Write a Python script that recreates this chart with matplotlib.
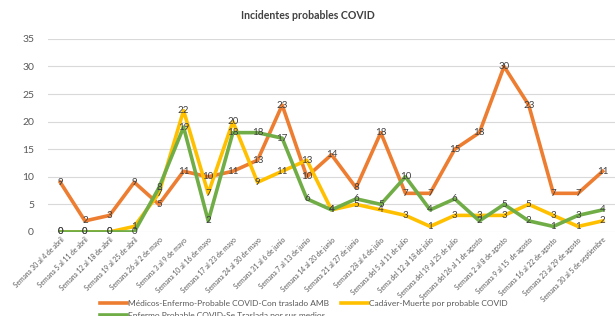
import matplotlib.pyplot as plt

semanas = ['Semana 30 al 4 de abril', 'Semana 5 al 11 de abril', 'Semana 12 al 18 de abril',
           'Semana 19 al 25 de abril', 'Semana 26 al 2 de mayo', 'Semana 3 al 9 de mayo',
           'Semana 10 al 16 de mayo', 'Semana 17 al 23 de mayo', 'Semana 24 al 30 de mayo',
           'Semana 31 al 6 de junio', 'Semana 7 al 13 de junio', 'Semana 14 al 20 de junio',
           'Semana 21 al 27 de junio', 'Semana 28 al 4 de julio', 'Semana del 5 al 11 de julio',
           'Sema del 12 al 18 de julio', 'Semana del 19 al 25 de julio', 'Semana del 26 al 1 de agosto',
           'Semana 2 al 8 de agosto', 'Semana 9 al 15  de agosto', 'Semana 16 al 22 de agosto',
           'Semana 23 al 29 de agosto', 'Semana 30 al 5 de septiembre']
medicos = [9, 2, 3, 9, 5, 11, 10, 11, 13, 23, 10, 14, 8, 18, 7, 7, 15, 18, 30, 23, 7, 7, 11]
cadaver = [0, 0, 0, 1, 7, 22, 7, 20, 9, 11, 13, 4, 5, 4, 3, 1, 3, 3, 3, 5, 3, 1, 2]
enfermo = [0, 0, 0, 0, 8, 19, 2, 18, 18, 17, 6, 4, 6, 5, 10, 4, 6, 2, 5, 2, 1, 3, 4]

plt.rcParams['font.family'] = ['Lato', 'DejaVu Sans']

fig = plt.figure(figsize=(6.15, 3.16), dpi=100)
ax = fig.add_axes([0.078, 0.266, 0.922, 0.611])
x = list(range(len(semanas)))

series = [(medicos, '#ED7D31', 'Médicos-Enfermo-Probable COVID-Con traslado AMB'),
          (enfermo, '#70AD47', 'Enfermo Probable COVID-Se Traslada por sus medios'),
          (cadaver, '#FFC000', 'Cadáver-Muerte por probable COVID')]
handles = {}
for idx in [0, 2, 1]:
    vals, col, lab = series[idx]
    l, = ax.plot(x, vals, color=col, lw=2.6, label=lab, zorder=3)
    handles[idx] = l
    for xi, v in zip(x, vals):
        ax.text(xi, v, str(v), ha='center', va='center', fontsize=7, color='#404040', zorder=5)

ax.set_xlim(-0.5, len(semanas) - 0.5)
ax.set_ylim(0, 35)
ax.set_yticks(range(0, 36, 5))
ax.grid(axis='y', color='#d9d9d9', lw=0.8)
ax.set_axisbelow(True)
for s in ax.spines.values():
    s.set_visible(False)
ax.tick_params(axis='both', length=0, colors='#595959')
ax.tick_params(axis='y', labelsize=7.5, pad=10)
ax.tick_params(axis='x', pad=3)
ax.set_xticks(x)
ax.set_xticklabels(semanas, rotation=45, ha='right', rotation_mode='anchor', fontsize=4.8)

fig.text(0.5, 0.952, 'Incidentes probables COVID', ha='center', va='center',
         fontsize=7.6, fontweight='bold', color='#404040')

# one legend per entry so each sits where it does in the original
legend_pos = {0: (0.163, 0.041), 2: (0.555, 0.041), 1: (0.163, 0.003)}
for idx, pos in legend_pos.items():
    leg = fig.legend([handles[idx]], [series[idx][2]], loc='center left', bbox_to_anchor=pos,
                     frameon=False, fontsize=6, labelcolor='#595959', handlelength=3.2,
                     handletextpad=0.1, borderaxespad=0, borderpad=0)

fig.savefig('out.png', dpi=100)
